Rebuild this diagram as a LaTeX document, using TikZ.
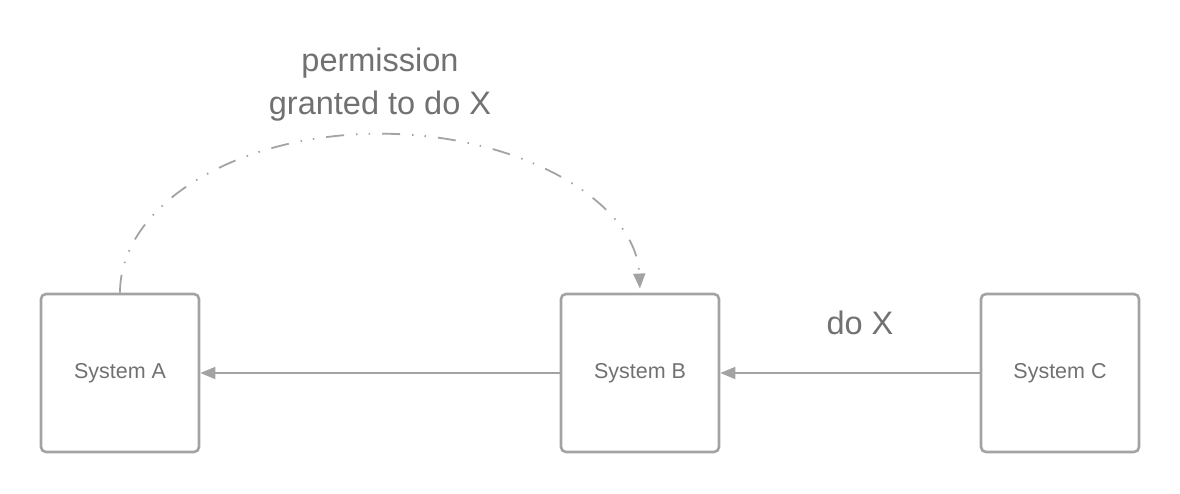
\documentclass[tikz,border=0pt]{standalone}
\usepackage{fontspec}
\setmainfont{Liberation Sans}
\usetikzlibrary{arrows.meta}
\definecolor{boxgray}{HTML}{A3A3A3}
\definecolor{txtgray}{HTML}{717171}
\begin{document}
\begin{tikzpicture}[x=1pt,y=-1pt,
  sysbox/.style={draw=boxgray,line width=2.6pt,rounded corners=5pt,minimum width=158pt,minimum height=158pt,inner sep=0pt,text=txtgray,font=\fontsize{21.5}{24}\selectfont},
  conn/.style={draw=boxgray,line width=1.8pt,-{Triangle[length=15pt,width=12pt]}},
  lbl/.style={text=txtgray,font=\fontsize{32.5}{43}\selectfont,align=center}]
\useasboundingbox (0,0) rectangle (1180,493);
\node[sysbox] (A) at (120,373) {System A};
\node[sysbox] (B) at (640,373) {System B};
\node[sysbox] (C) at (1060,373) {System C};
\draw[conn] (B.west) -- (A.east);
\draw[conn] (C.west) -- (B.east);
\draw[draw=boxgray,line width=1.8pt,dash pattern=on 18pt off 12pt on 1.5pt off 11pt on 1.5pt off 12pt,-{Triangle[length=15pt,width=12pt]}]
  (A.north) arc[start angle=180,end angle=358.5,x radius=260,y radius=159];
\node[lbl] (perm) at (380,85) {permission\\granted to do X};
\node[lbl] (dox) at (860,323) {do X};
\end{tikzpicture}
\end{document}
